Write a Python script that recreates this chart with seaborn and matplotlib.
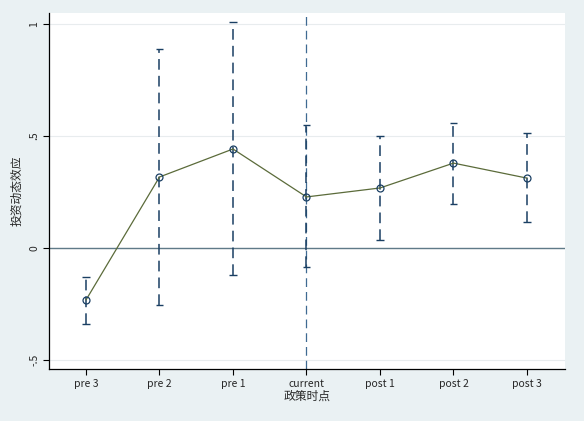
import numpy as np
import pandas as pd
import matplotlib
matplotlib.use('Agg')
import matplotlib.pyplot as plt
import seaborn as sns

# 事件研究 系数与置信区间 (图上读取)
periods = ['pre 3', 'pre 2', 'pre 1', 'current', 'post 1', 'post 2', 'post 3']
coef = [-0.232, 0.317, 0.442, 0.228, 0.268, 0.379, 0.312]
ci_low = [-0.339, -0.254, -0.121, -0.085, 0.036, 0.196, 0.116]
ci_high = [-0.129, 0.888, 1.009, 0.549, 0.500, 0.558, 0.513]
yticks = [-0.5, 0, 0.5, 1]
ytick_labels = ['-.5', '0', '.5', '1']

sns.set_style('white')
plt.rcParams['font.family'] = ['Noto Sans CJK SC', 'DejaVu Sans']
plt.rcParams['axes.unicode_minus'] = False

df = pd.DataFrame({'period': periods, 'coef': coef, 'low': ci_low, 'high': ci_high})
df['x'] = np.arange(len(df))

fig = plt.figure(figsize=(5.84, 4.21), dpi=100)
fig.patch.set_facecolor('#eaf1f3')
ax = fig.add_axes([49 / 584, 1 - 369 / 421, 516 / 584, 356 / 421])
ax.set_facecolor('white')

# 网格线 / 参考线
for yt in yticks:
    ax.axhline(yt, color='#e8ecee', lw=0.8, zorder=0)
ax.axhline(0, color='#5f7a88', lw=1.0, zorder=1)
ax.axvline(3, color='#3f6a92', lw=0.9, ls=(0, (7, 4)), zorder=1)

# 置信区间 (虚线 + 帽)
ax.vlines(df['x'], df['low'], df['high'], colors='#1a3f63', lw=1.1,
          linestyles=(0, (7, 4)), zorder=2)
ax.hlines(df['low'], df['x'] - 0.05, df['x'] + 0.05, colors='#1a3f63', lw=1.0, zorder=2)
ax.hlines(df['high'], df['x'] - 0.05, df['x'] + 0.05, colors='#1a3f63', lw=1.0, zorder=2)

# 系数连线
sns.lineplot(data=df, x='x', y='coef', ax=ax, color='#5b6b3a', lw=0.9,
             marker='o', markersize=5, markerfacecolor='none',
             markeredgecolor='#1a3f63', markeredgewidth=0.9, zorder=3)

ax.set_xlim(-0.503, 6.517)
ax.set_ylim(-0.54, 1.049)
ax.set_xticks(df['x'])
ax.set_xticklabels(periods, fontsize=7.5)
ax.set_yticks(yticks)
ax.set_yticklabels(ytick_labels, fontsize=7.5, rotation=90, va='center')
ax.set_xlabel('政策时点', fontsize=8.5, labelpad=1)
ax.set_ylabel('投资动态效应', fontsize=8.5, labelpad=4)
ax.tick_params(axis='both', direction='out', length=4, width=0.8, color='black',
               left=True, bottom=True, pad=3)

sns.despine(ax=ax)
ax.spines['left'].set_color('black')
ax.spines['bottom'].set_color('black')
ax.spines['left'].set_linewidth(0.9)
ax.spines['bottom'].set_linewidth(0.9)

fig.savefig('out.png', dpi=100, facecolor=fig.get_facecolor())
